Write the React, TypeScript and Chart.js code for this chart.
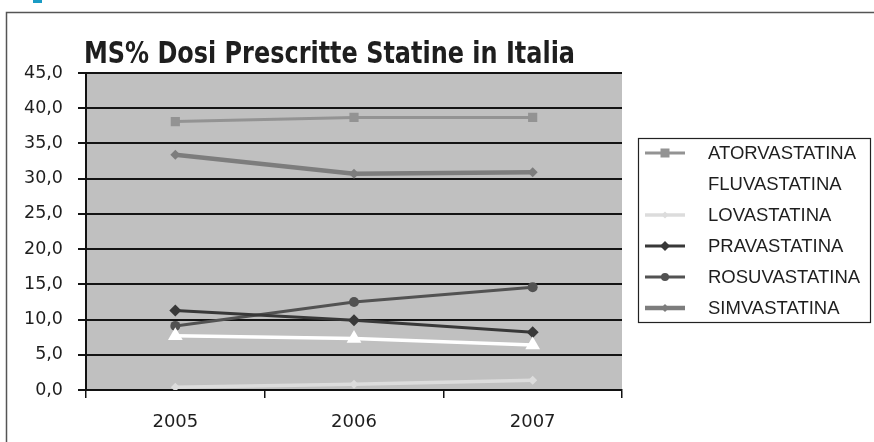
import React, { useEffect, useRef } from "react";
import { Chart, registerables } from "chart.js";

Chart.register(...registerables);

const years = ["2005", "2006", "2007"];
const atorvastatina = [38.1, 38.7, 38.7];
const fluvastatina = [7.7, 7.3, 6.4];
const lovastatina = [0.4, 0.8, 1.4];
const pravastatina = [11.3, 9.9, 8.2];
const rosuvastatina = [9.1, 12.5, 14.6];
const simvastatina = [33.4, 30.7, 30.9];
const titleText = "MS% Dosi Prescritte Statine in Italia";

const W = 874;
const H = 442;
const PLOT = { left: 86, right: 622, top: 73, bottom: 390 };

function drawMarker(ctx: CanvasRenderingContext2D, style: string, x: number, y: number, r: number) {
  ctx.beginPath();
  if (style === "rect") {
    ctx.rect(x - r, y - r, 2 * r, 2 * r);
  } else if (style === "rectRot") {
    ctx.moveTo(x, y - r);
    ctx.lineTo(x + r, y);
    ctx.lineTo(x, y + r);
    ctx.lineTo(x - r, y);
    ctx.closePath();
  } else if (style === "triangle") {
    const h = r * 1.5;
    ctx.moveTo(x, y - h * 0.66);
    ctx.lineTo(x + r, y + h * 0.5);
    ctx.lineTo(x - r, y + h * 0.5);
    ctx.closePath();
  } else {
    ctx.arc(x, y, r, 0, Math.PI * 2);
  }
  ctx.fill();
}

const framePlugin = {
  id: "frameAndBg",
  beforeDraw(chart: any) {
    const { ctx, chartArea } = chart;
    ctx.save();
    ctx.fillStyle = "#ffffff";
    ctx.fillRect(0, 0, W, H);
    ctx.fillStyle = "#1a9bc4";
    ctx.fillRect(33, 0, 9, 3);
    ctx.strokeStyle = "#555555";
    ctx.lineWidth = 1.5;
    ctx.strokeRect(6.5, 12.5, W + 10, H + 10);
    ctx.fillStyle = "#c0c0c0";
    ctx.fillRect(chartArea.left, chartArea.top, chartArea.right - chartArea.left, chartArea.bottom - chartArea.top);
    ctx.restore();
  },
  afterDraw(chart: any) {
    const { ctx } = chart;
    ctx.save();
    ctx.fillStyle = "#1e1e1e";
    ctx.font = "bold 30px 'DejaVu Sans Condensed', 'DejaVu Sans', sans-serif";
    ctx.textBaseline = "alphabetic";
    ctx.textAlign = "left";
    const tw = ctx.measureText(titleText).width;
    const sx = 491 / tw;
    ctx.translate(84, 63);
    ctx.scale(sx, 1);
    ctx.fillText(titleText, 0, 0);
    ctx.restore();

    ctx.save();
    ctx.strokeStyle = "#222222";
    ctx.lineWidth = 1.2;
    ctx.strokeRect(638.5, 138.5, 232, 184);
    ctx.font = "18.5px 'Liberation Sans', Arial, sans-serif";
    ctx.textBaseline = "middle";
    ctx.textAlign = "left";
    const ys = [153, 184, 215, 246, 277, 308];
    chart.data.datasets.forEach((ds: any, i: number) => {
      const y = ys[i];
      ctx.strokeStyle = ds.borderColor;
      ctx.lineWidth = Math.max(3, ds.borderWidth);
      ctx.beginPath();
      ctx.moveTo(645, y);
      ctx.lineTo(685, y);
      ctx.stroke();
      ctx.fillStyle = ds.pointBackgroundColor;
      drawMarker(ctx, ds.pointStyle, 665, y, ds.legendRadius);
      ctx.fillStyle = "#1e1e1e";
      ctx.fillText(ds.label, 708, y + 1);
    });
    ctx.restore();
  },
};

export default function App() {
  const ref = useRef<HTMLCanvasElement | null>(null);
  useEffect(() => {
    document.body.style.margin = "0";
    if (!ref.current) return;
    const mk = (label: string, data: number[], color: string, width: number, style: string, r: number, lr: number) => ({
      label,
      data,
      borderColor: color,
      backgroundColor: color,
      pointBackgroundColor: color,
      pointBorderColor: color,
      borderWidth: width,
      pointStyle: style,
      pointRadius: r,
      pointBorderWidth: 0,
      legendRadius: lr,
      tension: 0,
    });
    const chart = new Chart(ref.current, {
      type: "line",
      data: {
        labels: years,
        datasets: [
          mk("ATORVASTATINA", atorvastatina, "#939393", 3, "rect", 6.5, 4.5),
          mk("FLUVASTATINA", fluvastatina, "#ffffff", 3.5, "triangle", 8.5, 6),
          mk("LOVASTATINA", lovastatina, "#dcdcdc", 3.5, "rectRot", 4.5, 3.5),
          mk("PRAVASTATINA", pravastatina, "#383838", 3, "rectRot", 6, 5),
          mk("ROSUVASTATINA", rosuvastatina, "#525252", 3, "circle", 5, 4),
          mk("SIMVASTATINA", simvastatina, "#7d7d7d", 4.5, "rectRot", 5, 4),
        ] as any,
      },
      options: {
        responsive: false,
        animation: false,
        devicePixelRatio: 1,
        layout: { padding: { left: 0, top: PLOT.top, right: W - PLOT.right, bottom: 0 } },
        plugins: {
          legend: { display: false },
          title: { display: false },
          tooltip: { enabled: false },
        },
        scales: {
          x: {
            offset: true,
            grid: {
              display: true,
              drawOnChartArea: false,
              drawTicks: true,
              tickLength: 8,
              color: "#111111",
              lineWidth: 1.5,
              offset: true,
            },
            border: { display: true, color: "#111111", width: 1.5 },
            ticks: {
              color: "#1e1e1e",
              font: { family: "'DejaVu Sans', sans-serif", size: 18 },
              padding: 14,
              maxRotation: 0,
            },
            afterFit(scale: any) {
              scale.height = H - PLOT.bottom;
            },
          },
          y: {
            min: 0,
            max: 45,
            ticks: {
              stepSize: 5,
              color: "#1e1e1e",
              font: { family: "'DejaVu Sans', sans-serif", size: 17.5 },
              padding: 15,
              callback: (v: any) => Number(v).toFixed(1).replace(".", ","),
            },
            grid: {
              color: "#141414",
              lineWidth: 2,
              tickLength: 8,
              drawTicks: true,
            },
            border: { display: true, color: "#111111", width: 2 },
            afterFit(scale: any) {
              scale.width = PLOT.left;
            },
          },
        },
      },
      plugins: [framePlugin],
    });
    return () => chart.destroy();
  }, []);
  return (
    <div style={{ position: "absolute", left: 0, top: 0, width: W, height: H }}>
      <canvas ref={ref} width={W} height={H} style={{ width: W, height: H, display: "block" }} />
    </div>
  );
}
